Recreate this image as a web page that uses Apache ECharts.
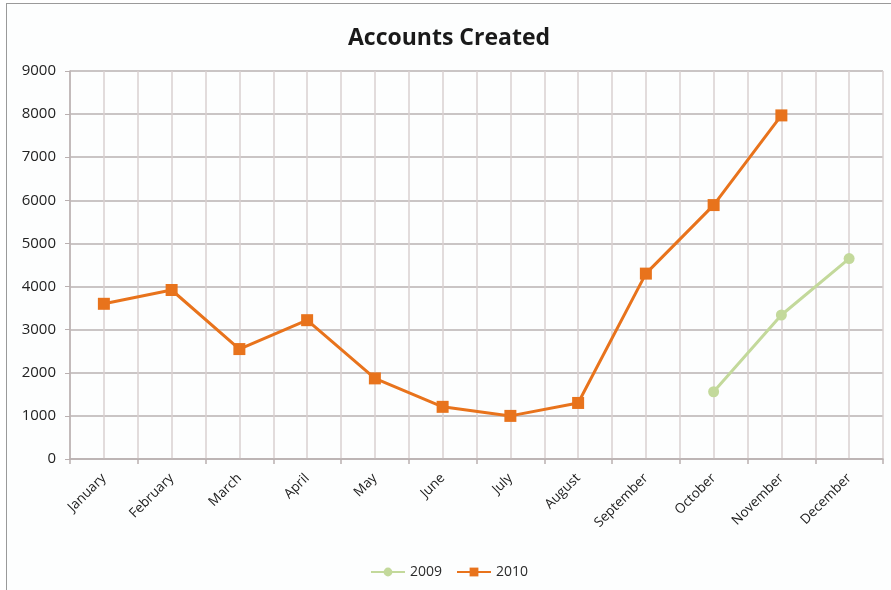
<!DOCTYPE html>
<html>
<head>
<meta charset="utf-8">
<script src="https://cdn.jsdelivr.net/npm/echarts@6/dist/echarts.min.js"></script>
<style>
	html, body { margin: 0; padding: 0; background: #fff; }
	#chart { position: absolute; left: 6px; top: 3px; width: 884px; height: 586px; border-left: 1px solid #9a9a9a; border-top: 1px solid #9a9a9a; background: #fdfefe; }
</style>
</head>
<body>
<div id="chart"></div>
<script>
	var months = ["January", "February", "March", "April", "May", "June", "July", "August", "September", "October", "November", "December"];
	var values2009 = [null, null, null, null, null, null, null, null, null, 1560, 3340, 4650];
	var values2010 = [3600, 3920, 2550, 3220, 1870, 1210, 1000, 1300, 4300, 5890, 7970, null];
	var yTicks = { min: 0, max: 9000, step: 1000 };

	var font = "'Open Sans', 'Liberation Sans', sans-serif";
	var myChart = echarts.init(document.getElementById("chart"));
	var option = {
		title: {
			text: "Accounts Created",
			left: "center",
			top: 18,
			textStyle: { fontFamily: font, fontSize: 23, fontWeight: "bold", color: "#1a1a1a" }
		},
		legend: {
			bottom: 6,
			left: "center",
			itemWidth: 34,
			itemHeight: 11,
			itemGap: 14,
			textStyle: { fontFamily: font, fontSize: 14, color: "#2a2a2a" },
			data: ["2009", "2010"]
		},
		grid: { left: 63, right: 8, top: 67, bottom: 131 },
		xAxis: [{
			type: "category",
			data: months,
			boundaryGap: true,
			axisLine: { lineStyle: { color: "#b9b0b0", width: 1.5 } },
			axisTick: { show: true, length: 5, lineStyle: { color: "#b9b0b0", width: 1.5 } },
			axisLabel: { rotate: 45, fontFamily: font, fontSize: 13.5, color: "#222", margin: 17 },
			splitLine: { show: false }
		}, {
			type: "value",
			min: 0,
			max: 24,
			interval: 1,
			position: "bottom",
			axisLine: { show: false },
			axisTick: { show: false },
			axisLabel: { show: false },
			splitLine: { show: true, lineStyle: { color: "#d8d0d0", width: 1.5 } }
		}],
		yAxis: {
			type: "value",
			min: yTicks.min,
			max: yTicks.max,
			interval: yTicks.step,
			axisLine: { show: true, lineStyle: { color: "#b9b0b0", width: 1.5 } },
			axisTick: { show: true, length: 5, lineStyle: { color: "#b9b0b0" } },
			axisLabel: { fontFamily: font, fontSize: 15, color: "#222", margin: 14, formatter: function (v) { return String(v); } },
			splitLine: { lineStyle: { color: "#b8b2b2", width: 1.5 } }
		},
		series: [{
			name: "2009",
			type: "line",
			data: values2009,
			symbol: "circle",
			symbolSize: 11,
			color: "#c3d99b",
			lineStyle: { width: 3, color: "#c3d99b" },
			itemStyle: { color: "#c3d99b" }
		}, {
			name: "2010",
			type: "line",
			data: values2010,
			symbol: "rect",
			symbolSize: 12,
			color: "#e8731c",
			lineStyle: { width: 3, color: "#e8731c" },
			itemStyle: { color: "#e8731c" }
		}]
	};
	myChart.setOption(option);
</script>
</body>
</html>
